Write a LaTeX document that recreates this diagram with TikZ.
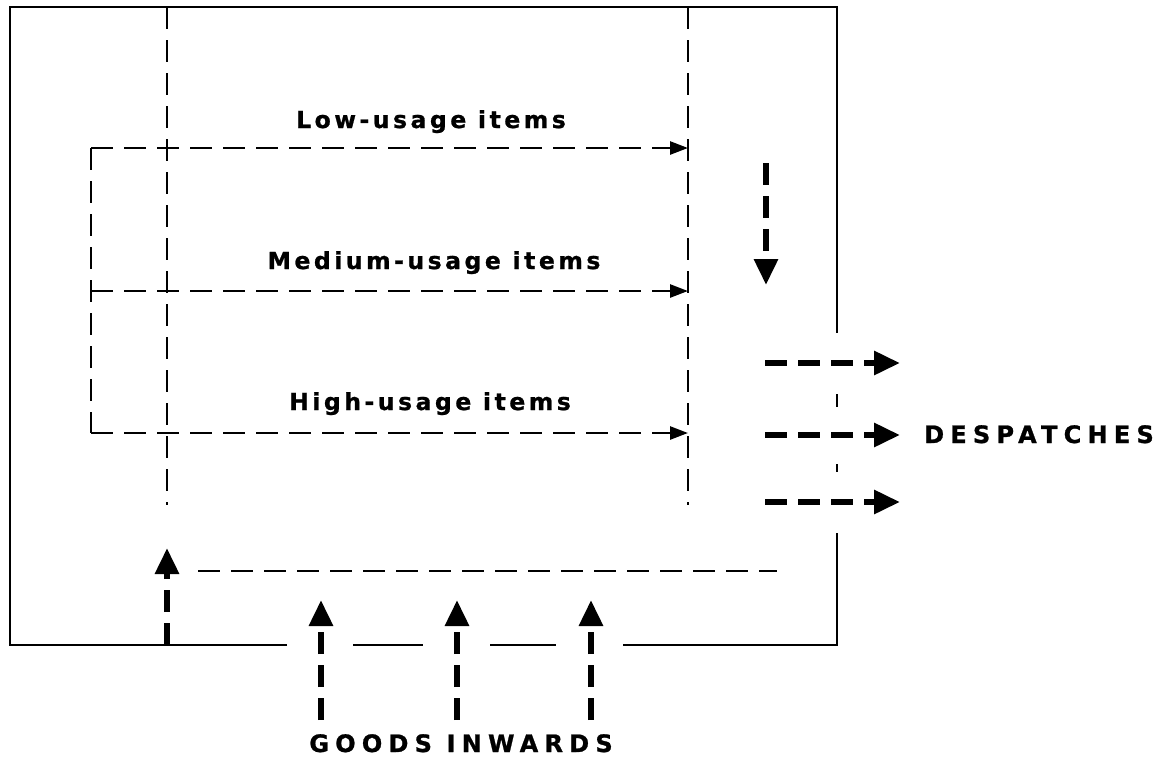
\documentclass[tikz,border=0pt]{standalone}
\usepackage{fontspec}
\setmainfont{DejaVu Sans}
\newfontfamily\lblfont[LetterSpace=15, BoldFeatures={FakeBold=1}]{DejaVu Sans}
\newfontfamily\capfont[LetterSpace=26, BoldFeatures={FakeBold=1}]{DejaVu Sans}
\usetikzlibrary{arrows.meta}
\begin{document}
\begin{tikzpicture}[x=1pt,y=-1pt,
  wall/.style={line width=2.5pt},
  thindash/.style={line width=2.6pt, dash pattern=on 22pt off 11pt},
  thinarrow/.style={thindash, -{Triangle[length=18pt,width=13pt]}},
  bigarrow/.style={line width=6pt, dash pattern=on 22pt off 11pt, -{Triangle[length=26pt,width=23pt]}},
  lbl/.style={font=\lblfont\bfseries\fontsize{23.5}{27}\selectfont, anchor=base, inner sep=0pt},
  caplbl/.style={font=\capfont\bfseries\fontsize{24}{27}\selectfont, anchor=base, inner sep=0pt}]
\useasboundingbox (0,0) rectangle (1159,758);
% walls
\draw[wall] (287,645) -- (10,645) -- (10,7) -- (837,7) -- (837,333);
\draw[wall] (837,394) -- (837,407);
\draw[wall] (837,464) -- (837,472);
\draw[wall] (837,533) -- (837,645) -- (623,645);
\draw[wall] (353,645) -- (423,645);
\draw[wall] (490,645) -- (556,645);
% aisle lines
\coordinate (aT) at (167,7);   \coordinate (aB) at (167,505);
\coordinate (bT) at (688,7);   \coordinate (bB) at (688,505);
\draw[thindash] (aT) -- (aB);
\draw[thindash] (bT) -- (bB);
% storage flows
\coordinate (lL) at (91,148); \coordinate (lR) at (688,148);
\coordinate (mL) at (91,291); \coordinate (mR) at (688,291);
\coordinate (hL) at (91,433); \coordinate (hR) at (688,433);
\draw[thindash] (lL) -- (hL);
\draw[thinarrow] (lL) -- (lR);
\draw[thinarrow] (mL) -- (mR);
\draw[thinarrow] (hL) -- (hR);
\node[lbl] (low) at (431,128) {Low-usage items};
\node[lbl] (med) at (434,269) {Medium-usage items};
\node[lbl] (high) at (430,410) {High-usage items};
% receiving line
\coordinate (rL) at (198,571); \coordinate (rR) at (777,571);
\draw[thindash] (rL) -- (rR);
% big arrows
\coordinate (up0s) at (167,645); \coordinate (up0e) at (167,548);
\draw[bigarrow] (up0s) -- (up0e);
\coordinate (g1s) at (321,720); \coordinate (g1e) at (321,600);
\coordinate (g2s) at (457,720); \coordinate (g2e) at (457,600);
\coordinate (g3s) at (591,720); \coordinate (g3e) at (591,600);
\draw[bigarrow] (g1s) -- (g1e);
\draw[bigarrow] (g2s) -- (g2e);
\draw[bigarrow] (g3s) -- (g3e);
\coordinate (dns) at (766,163); \coordinate (dne) at (766,285);
\draw[bigarrow] (dns) -- (dne);
\coordinate (d1s) at (765,363); \coordinate (d1e) at (900,363);
\coordinate (d2s) at (765,435); \coordinate (d2e) at (900,435);
\coordinate (d3s) at (765,502); \coordinate (d3e) at (900,502);
\draw[bigarrow] (d1s) -- (d1e);
\draw[bigarrow] (d2s) -- (d2e);
\draw[bigarrow] (d3s) -- (d3e);
\node[caplbl] (desp) at (1039,443) {DESPATCHES};
\node[caplbl] (goods) at (461,752) {GOODS INWARDS};
\end{tikzpicture}
\end{document}
